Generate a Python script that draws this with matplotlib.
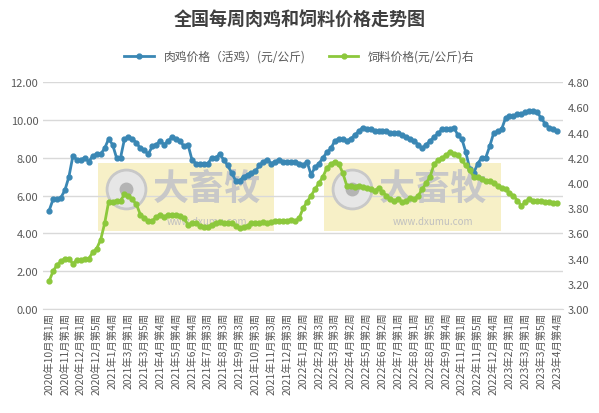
import matplotlib
matplotlib.use("Agg")
import matplotlib.pyplot as plt
from matplotlib.patches import Rectangle

plt.rcParams['font.family'] = ['Noto Sans CJK SC', 'DejaVu Sans']

# --- data ---
chicken = [5.2, 5.8, 5.8, 5.9, 6.3, 7.0, 8.1, 7.9, 7.9, 8.0, 7.8, 8.1, 8.2, 8.2, 8.5, 9.0,
           8.7, 8.0, 8.0, 9.0, 9.1, 9.0, 8.8, 8.5, 8.4, 8.2, 8.6, 8.7, 8.9, 8.7, 8.9, 9.1,
           9.0, 8.9, 8.6, 8.7, 7.9, 7.7, 7.7, 7.7, 7.7, 8.0, 8.0, 8.2, 7.9, 7.6, 7.2, 6.8,
           6.8, 7.0, 7.1, 7.2, 7.3, 7.6, 7.8, 7.9, 7.7, 7.8, 7.9, 7.8, 7.8, 7.8, 7.8, 7.7,
           7.6, 7.8, 7.1, 7.5, 7.7, 8.0, 8.3, 8.5, 8.9, 9.0, 9.0, 8.9, 9.0, 9.2, 9.4, 9.6,
           9.5, 9.5, 9.4, 9.4, 9.4, 9.4, 9.3, 9.3, 9.3, 9.2, 9.1, 9.0, 8.9, 8.7, 8.5, 8.7,
           8.9, 9.1, 9.3, 9.5, 9.5, 9.5, 9.6, 9.2, 9.0, 8.3, 7.4, 7.2, 7.7, 8.0, 8.0, 8.6,
           9.3, 9.4, 9.5, 10.1, 10.2, 10.2, 10.3, 10.3, 10.4, 10.5, 10.5, 10.4, 10.1, 9.8,
           9.6, 9.5, 9.4]
feed = [3.22, 3.30, 3.35, 3.38, 3.40, 3.40, 3.36, 3.39, 3.39, 3.40, 3.40, 3.45, 3.48, 3.55,
        3.68, 3.85, 3.85, 3.86, 3.86, 3.91, 3.90, 3.87, 3.83, 3.75, 3.72, 3.70, 3.70, 3.73,
        3.75, 3.73, 3.75, 3.75, 3.75, 3.74, 3.72, 3.67, 3.68, 3.68, 3.66, 3.65, 3.65, 3.67,
        3.68, 3.69, 3.68, 3.68, 3.68, 3.66, 3.64, 3.65, 3.66, 3.68, 3.68, 3.68, 3.69, 3.68,
        3.69, 3.70, 3.70, 3.70, 3.70, 3.71, 3.70, 3.72, 3.80, 3.85, 3.90, 3.95, 4.00, 4.05,
        4.12, 4.15, 4.17, 4.15, 4.08, 3.98, 3.98, 3.97, 3.98, 3.97, 3.96, 3.95, 3.94, 3.96,
        3.93, 3.90, 3.87, 3.86, 3.87, 3.85, 3.86, 3.88, 3.87, 3.90, 3.95, 4.00, 4.05, 4.15,
        4.18, 4.20, 4.22, 4.25, 4.23, 4.22, 4.18, 4.14, 4.10, 4.05, 4.05, 4.03, 4.02, 4.02,
        4.00, 3.98, 3.96, 3.95, 3.92, 3.90, 3.86, 3.82, 3.85, 3.87, 3.86, 3.86, 3.86, 3.85,
        3.85, 3.84, 3.84]
tick_labels = ["2020年10月第1周", "2020年11月第1周", "2020年12月第1周", "2020年12月第5周",
               "2021年1月第4周", "2021年3月第1周", "2021年3月第5周", "2021年4月第4周",
               "2021年5月第4周", "2021年6月第4周", "2021年7月第3周", "2021年8月第3周",
               "2021年9月第3周", "2021年10月第3周", "2021年11月第3周", "2021年12月第3周",
               "2022年1月第2周", "2022年2月第3周", "2022年3月第3周", "2022年4月第2周",
               "2022年5月第2周", "2022年6月第2周", "2022年7月第1周", "2022年8月第1周",
               "2022年8月第5周", "2022年9月第4周", "2022年11月第1周", "2022年11月第5周",
               "2022年12月第4周", "2023年2月第1周", "2023年3月第1周", "2023年3月第5周",
               "2023年4月第4周"]

BLUE = "#3a87b4"
GREEN = "#8cc83c"

fig = plt.figure(figsize=(5.99, 4.14), dpi=100)
ax = fig.add_axes([0.072, 0.251, 0.868, 0.548])
ax2 = ax.twinx()
n = len(chicken)
x = list(range(n))

# watermark boxes
for x0, x1 in [(0.105, 0.445), (0.54, 0.88)]:
    ax.add_patch(Rectangle((x0, 0.345), x1 - x0, 0.3, transform=ax.transAxes,
                           facecolor="#f5eab0", alpha=0.7, edgecolor="none", zorder=0))
    ax.text(x0 + 0.21, 0.53, "大畜牧", transform=ax.transAxes, fontsize=26, color="#c8c8c8",
            ha="center", va="center", weight="bold", zorder=1)
    ax.text(x0 + 0.21, 0.39, "www.dxumu.com", transform=ax.transAxes, fontsize=7,
            color="#c0c0c0", ha="center", va="center", zorder=1)
    ax.plot([x0 + 0.055], [0.53], transform=ax.transAxes, marker="o", ms=28,
            mfc="#e6e6e6", mec="#c8c8c8", mew=2, zorder=1)
    ax.plot([x0 + 0.055], [0.53], transform=ax.transAxes, marker="o", ms=10,
            mfc="#b4b4b4", mec="none", zorder=1)

ax.plot(x, chicken, color=BLUE, lw=2, marker="o", ms=3.5, zorder=3)
ax2.plot(x, feed, color=GREEN, lw=2, marker="o", ms=3.5, zorder=3)

ax.set_ylim(0, 12)
ax.set_yticks(range(0, 13, 2))
ax.set_yticklabels([f"{v:.2f}" for v in range(0, 13, 2)])
ax2.set_ylim(3.0, 4.8)
ax2.set_yticks([3.0 + 0.2 * i for i in range(10)])
ax2.set_yticklabels([f"{3.0 + 0.2 * i:.2f}" for i in range(10)])
ax.set_xlim(-1.5, n + 0.5)
ax.set_xticks(range(0, 4 * len(tick_labels), 4))
ax.set_xticklabels(tick_labels, rotation=90, fontsize=7.5, color="#595959")
ax.grid(axis="y", color="#d9d9d9", lw=1)
ax.set_axisbelow(True)
for a in (ax, ax2):
    for s in a.spines.values():
        s.set_visible(False)
    a.tick_params(length=0, labelsize=8, colors="#595959")
ax.spines["bottom"].set_visible(True)
ax.spines["bottom"].set_color("#d9d9d9")
ax.tick_params(axis="x", labelsize=7.5, pad=2)

fig.suptitle("全国每周肉鸡和饲料价格走势图", y=0.975, fontsize=13, weight="bold", color="#404040")
h1, = ax.plot([], [], color=BLUE, lw=2, marker="o", ms=3.5)
h2, = ax.plot([], [], color=GREEN, lw=2, marker="o", ms=3.5)
fig.legend([h1, h2], ["肉鸡价格（活鸡）(元/公斤)", "饲料价格(元/公斤)右"], loc="center",
           bbox_to_anchor=(0.5, 0.862), ncol=2, frameon=False, fontsize=8.5,
           labelcolor="#595959", handlelength=2.5, columnspacing=2)

fig.savefig("out.png", dpi=100, facecolor="white")
